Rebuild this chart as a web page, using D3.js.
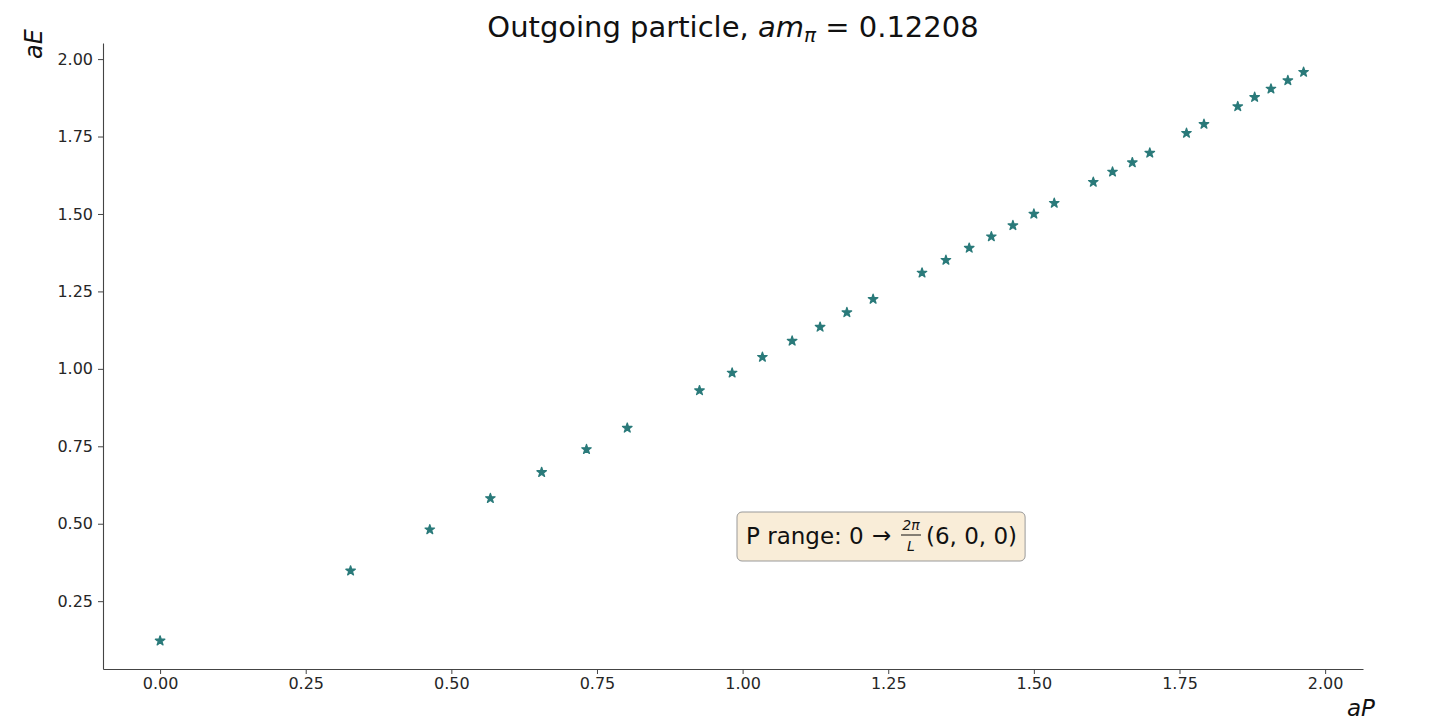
<!DOCTYPE html>
<html>
<head>
  <meta charset="utf-8">
  <title>Outgoing particle</title>
  <script src="https://cdn.jsdelivr.net/npm/d3@7"></script>
  <style>
    body { margin: 0; background: #fff; }
    svg text { font-family: "DejaVu Sans", sans-serif; }
    .tick text { font-size: 16px; fill: #262626; }
  </style>
</head>
<body>
  <div id="chart"></div>
  <script>
    // momentum and energy
    const aP = [0, 0.327, 0.463, 0.567, 0.655, 0.732, 0.802, 0.926, 0.982, 1.034, 1.085,
      1.133, 1.179, 1.224, 1.308, 1.349, 1.389, 1.427, 1.464, 1.500, 1.535, 1.602,
      1.635, 1.669, 1.699, 1.762, 1.792, 1.850, 1.879, 1.907, 1.936, 1.963];
    const aE = [0.122, 0.348, 0.481, 0.582, 0.666, 0.740, 0.809, 0.930, 0.987, 1.038, 1.090,
      1.135, 1.182, 1.225, 1.310, 1.351, 1.390, 1.427, 1.463, 1.500, 1.535, 1.603,
      1.636, 1.666, 1.697, 1.761, 1.790, 1.847, 1.877, 1.904, 1.931, 1.958];
    const xTicks = [0, 0.25, 0.5, 0.75, 1, 1.25, 1.5, 1.75, 2];
    const yTicks = [0.25, 0.5, 0.75, 1, 1.25, 1.5, 1.75, 2];

    const w = 1432, h = 724;
    const mLeft = 103, mRight = 1363, mTop = 43, mBottom = 669;

    const svg = d3.select("#chart").append("svg")
      .attr("width", w)
      .attr("height", h);

    const x = d3.scaleLinear().domain([-0.098, 2.065]).range([mLeft, mRight]);
    const y = d3.scaleLinear().domain([0.031, 2.052]).range([mBottom, mTop]);

    // axes
    const xAxis = svg.append("g")
      .attr("transform", `translate(0,${mBottom})`)
      .call(d3.axisBottom(x).tickValues(xTicks).tickFormat(d3.format(".2f"))
        .tickSize(5).tickPadding(3.5).tickSizeOuter(0));
    const yAxis = svg.append("g")
      .attr("transform", `translate(${mLeft},0)`)
      .call(d3.axisLeft(y).tickValues(yTicks).tickFormat(d3.format(".2f"))
        .tickSize(5).tickPadding(5).tickSizeOuter(0));
    [xAxis, yAxis].forEach(g => {
      g.select(".domain").attr("stroke", "#444").attr("stroke-width", 1.1);
      g.selectAll(".tick line").attr("stroke", "#444");
    });

    // stars
    const star = d3.symbol().type(d3.symbolStar).size(28);
    svg.append("g")
      .selectAll("path")
      .data(aP.map((p, i) => [p, aE[i]]))
      .enter()
      .append("path")
      .attr("d", star)
      .attr("transform", d => `translate(${x(d[0])},${y(d[1])})`)
      .attr("fill", "#2a7a7a")
      .attr("stroke", "#2a7a7a")
      .attr("stroke-width", 1.3)
      .attr("stroke-linejoin", "round");

    // title
    const title = svg.append("text")
      .attr("x", (mLeft + mRight) / 2)
      .attr("y", 37)
      .attr("text-anchor", "middle")
      .attr("font-size", 29)
      .attr("fill", "#111");
    title.append("tspan").text("Outgoing particle, ");
    title.append("tspan").attr("font-style", "italic").text("am");
    title.append("tspan").attr("font-style", "italic").attr("font-size", 20).attr("dy", 5).text("π");
    title.append("tspan").attr("dy", -5).text(" = 0.12208");

    // axis labels
    svg.append("text")
      .attr("transform", "translate(42,44) rotate(-90)")
      .attr("text-anchor", "middle")
      .attr("font-size", 24)
      .attr("font-style", "italic")
      .attr("fill", "#111")
      .text("aE");
    svg.append("text")
      .attr("x", mRight - 2)
      .attr("y", 716)
      .attr("text-anchor", "middle")
      .attr("font-size", 23)
      .attr("font-style", "italic")
      .attr("fill", "#111")
      .text("aP");

    // annotation box
    const box = svg.append("g");
    const rect = box.append("rect");
    const by = 544;
    box.append("text")
      .attr("x", 746).attr("y", by)
      .attr("font-size", 23).attr("fill", "#111")
      .text("P range: 0");
    box.append("text")
      .attr("x", 872).attr("y", by - 1)
      .attr("font-size", 23).attr("fill", "#111")
      .text("\u2192");
    const fx = 911;
    box.append("text").attr("x", fx).attr("y", 530)
      .attr("text-anchor", "middle").attr("font-size", 14)
      .attr("font-style", "italic").attr("fill", "#111").text("2π");
    box.append("line").attr("x1", fx - 10).attr("x2", fx + 10)
      .attr("y1", 535).attr("y2", 535).attr("stroke", "#111").attr("stroke-width", 1);
    box.append("text").attr("x", fx).attr("y", 551)
      .attr("text-anchor", "middle").attr("font-size", 14)
      .attr("font-style", "italic").attr("fill", "#111").text("L");
    const t2 = box.append("text")
      .attr("x", 926).attr("y", by)
      .attr("font-size", 23).attr("fill", "#111")
      .text("(6, 0, 0)");
    const e2 = 926 + t2.node().getComputedTextLength();
    rect.attr("x", 737).attr("y", 512)
      .attr("width", e2 + 8 - 737).attr("height", 49)
      .attr("rx", 5)
      .attr("fill", "#f9edd8")
      .attr("stroke", "#999")
      .attr("stroke-width", 1);
  </script>
</body>
</html>
